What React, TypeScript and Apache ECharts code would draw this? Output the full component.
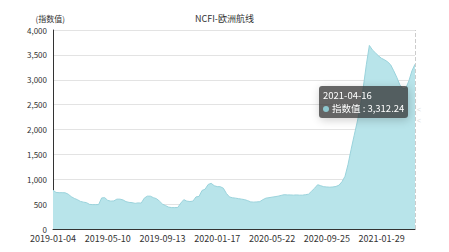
import React, { useEffect, useRef } from "react";
import * as echarts from "echarts";

const START_DATE = "2019-01-04";
const WEEK_COUNT = 120;
const SERIES_NAME = "指数值";
const TITLE = "NCFI-欧洲航线";
const Y_NAME = "(指数值)";

const values: number[] = [
  780, 735, 730, 730, 728, 700, 650, 615, 590, 555,
  540, 530, 495, 490, 490, 492, 625, 630, 575, 560,
  565, 600, 600, 585, 550, 535, 530, 515, 525, 520,
  620, 660, 660, 630, 610, 560, 500, 470, 440, 430,
  430, 432, 520, 590, 560, 552, 560, 645, 655, 775,
  800, 895, 918, 870, 852, 850, 820, 715, 645, 628,
  620, 610, 600, 590, 570, 545, 540, 545, 550, 590,
  620, 630, 640, 650, 660, 675, 690, 685, 685, 680,
  685, 680, 680, 690, 700, 760, 820, 890, 870, 850,
  845, 840, 845, 855, 880, 950, 1060, 1300, 1600, 1880,
  2150, 2450, 2850, 3300, 3690, 3600, 3540, 3480, 3430, 3400,
  3360, 3300, 3180, 3050, 2900, 2820, 2830, 2980, 3180, 3312.24,
];

function buildDates(start: string, n: number): string[] {
  const out: string[] = [];
  const d0 = new Date(start + "T00:00:00Z").getTime();
  for (let i = 0; i < n; i++) {
    const d = new Date(d0 + i * 7 * 86400000);
    out.push(d.toISOString().slice(0, 10));
  }
  return out;
}

const dates = buildDates(START_DATE, WEEK_COUNT);

const FONT = "'Microsoft YaHei', 'Noto Sans CJK SC', sans-serif";

export default function App() {
  const ref = useRef<HTMLDivElement>(null);
  useEffect(() => {
    document.body.style.margin = "0";
    if (!ref.current) return;
    const chart = echarts.init(ref.current, null, { renderer: "svg" });
    const fmt = (v: number) =>
      v.toLocaleString("en-US", { minimumFractionDigits: 0, maximumFractionDigits: 2 });
    chart.setOption({
      animation: false,
      textStyle: { fontFamily: FONT },
      title: {
        text: TITLE,
        left: "center",
        top: 9,
        textStyle: { fontSize: 9, fontWeight: "normal", color: "#333", fontFamily: FONT },
      },
      grid: { left: 53, right: 34, top: 30, bottom: 23, containLabel: false },
      tooltip: {
        trigger: "axis",
        alwaysShowContent: true,
        position: [319, 86],
        backgroundColor: "rgba(50,50,50,0.75)",
        borderWidth: 0,
        borderRadius: 3,
        padding: [3, 4],
        textStyle: { color: "#fff", fontSize: 9.5, fontFamily: FONT },
        axisPointer: { type: "line", lineStyle: { color: "#ccc", width: 1 } },
        formatter: (params: any) => {
          const p = Array.isArray(params) ? params[0] : params;
          return (
            `<div style="line-height:13px;white-space:nowrap">${p.name}<br/>` +
            `<span style="display:inline-block;width:6px;height:6px;border-radius:50%;background:#8ec7cf;margin-right:3px"></span>` +
            `${p.seriesName} : ${fmt(p.value)}</div>`
          );
        },
      },
      xAxis: {
        type: "category",
        boundaryGap: false,
        data: dates,
        axisLine: { lineStyle: { color: "#333" } },
        axisTick: { show: false },
        axisLabel: { interval: 17, fontSize: 9, color: "#333", margin: 5 },
      },
      yAxis: {
        type: "value",
        name: Y_NAME,
        nameGap: 8,
        nameTextStyle: { fontSize: 8, color: "#333", align: "right", padding: [0, -12, 0, 0] },
        min: 0,
        max: 4000,
        interval: 500,
        axisLine: { show: true, lineStyle: { color: "#333" } },
        axisTick: { show: false },
        axisLabel: { fontSize: 8, color: "#333", margin: 6, formatter: (v: number) => fmt(v) },
        splitLine: { lineStyle: { color: "#e3e3e3" } },
      },
      graphic: [
        { type: "text", left: 417, top: 106, style: { text: "<", fill: "#ddd", fontSize: 7 } },
        { type: "text", left: 417, top: 117, style: { text: "<", fill: "#ddd", fontSize: 7 } },
      ],
      series: [
        {
          name: SERIES_NAME,
          type: "line",
          data: values,
          symbol: "none",
          smooth: false,
          lineStyle: { color: "#8cc0c8", width: 1 },
          itemStyle: { color: "#8cc0c8" },
          areaStyle: { color: "#a8d0d5", opacity: 1 },
        },
      ],
    });
    chart.dispatchAction({ type: "showTip", seriesIndex: 0, dataIndex: values.length - 1 });
    return () => chart.dispose();
  }, []);
  return <div ref={ref} style={{ width: 449, height: 252 }} />;
}
